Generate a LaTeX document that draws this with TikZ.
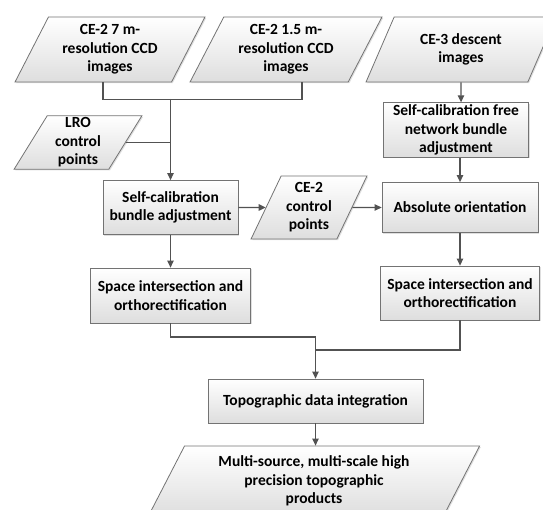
\documentclass[tikz,border=0pt]{standalone}
\usepackage{fontspec}
\setmainfont{Carlito}
\usetikzlibrary{shapes.geometric,arrows.meta,shadows}

\begin{document}
\begin{tikzpicture}[x=1pt, y=-1pt,
    base/.style={font=\bfseries\fontsize{15.5}{18.5}\selectfont, align=center, inner sep=2pt,
        draw=black!55, line width=0.8pt, top color=white, bottom color=black!13,
        drop shadow={shadow xshift=1.2pt, shadow yshift=-1.2pt, opacity=0.25}},
    box/.style={base, rectangle},
    data/.style={base, trapezium, trapezium left angle=63.4, trapezium right angle=116.6,
        trapezium stretches=true},
    line/.style={draw=black!68, line width=1.2pt},
    arrow/.style={line, -{Triangle[length=7pt, width=6.5pt]}}]
    \useasboundingbox (0,0) rectangle (543,510);
    % inputs
    \node[data, minimum width=190pt, minimum height=65pt] (cam7) at (110,49.5) {CE-2 7 m-\\resolution CCD\\images};
    \node[data, minimum width=192pt, minimum height=65pt] (cam15) at (286,49.5) {CE-2 1.5 m-\\resolution CCD\\images};
    \node[data, minimum width=190pt, minimum height=65pt] (desc) at (461,49.5) {CE-3 descent\\images};
    \node[data, minimum width=128pt, minimum height=53pt] (lro) at (78,142.5) {LRO\\control\\points};
    \node[data, minimum width=116pt, minimum height=63pt] (cpts) at (309,207.5) {CE-2\\control\\points};
    % processing
    \node[box, minimum width=135pt, minimum height=54pt] (sba) at (170.5,207.5) {Self-calibration\\bundle adjustment};
    \node[box, minimum width=145pt, minimum height=54pt] (free) at (456,130) {Self-calibration free\\network bundle\\adjustment};
    \node[box, minimum width=156pt, minimum height=50pt] (abs) at (460,207.5) {Absolute orientation};
    \node[box, minimum width=160pt, minimum height=55pt] (sil) at (170.5,295.5) {Space intersection and\\orthorectification};
    \node[box, minimum width=159pt, minimum height=54pt] (sir) at (460,293) {Space intersection and\\orthorectification};
    \node[box, minimum width=215pt, minimum height=44pt] (tdi) at (315.5,401) {Topographic data integration};
    \node[data, minimum width=332pt, minimum height=70pt] (prod) at (314,481) {Multi-source, multi-scale high\\precision topographic\\products};
    % connectors
    \coordinate (join) at (170.5,99);
    \coordinate (merge) at (315.5,337);
    \coordinate (merge2) at (315.5,350);
    \draw[line] ([xshift=-7pt]cam7.south) -- ++(0,17) -| ([xshift=16pt]cam15.south);
    \draw[line] (lro.east) -- (lro.east -| join);
    \draw[arrow] (join) -- (sba);
    \foreach \a/\b in {sba/cpts, cpts/abs, abs/sir, sba/sil, merge/tdi} {
        \draw[arrow] (\a) -- (\b);
    }
    \draw[arrow] (desc) -- (desc |- free.north);
    \draw[arrow] (free.south -| abs) -- (abs);
    \draw[line] (sil) |- (merge);
    \draw[line] (sir) |- (merge2);
    \draw[arrow] (tdi) -- (tdi.south |- prod.north);
\end{tikzpicture}
\end{document}
